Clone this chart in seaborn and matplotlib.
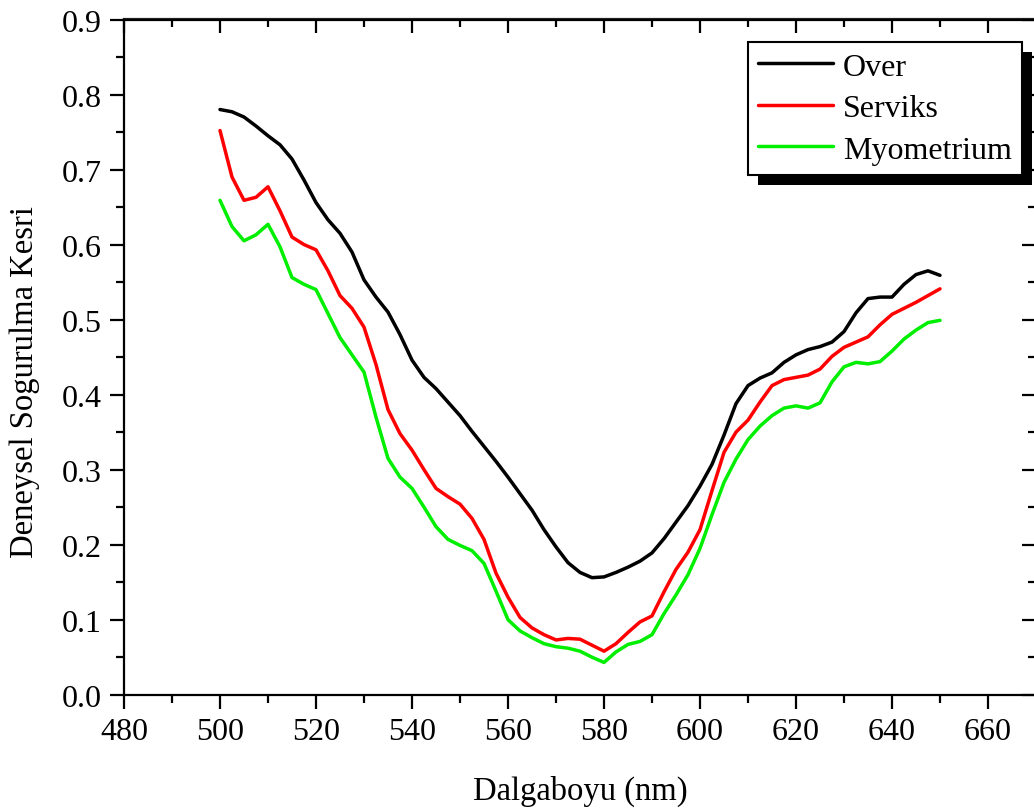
import numpy as np
import pandas as pd
import matplotlib
matplotlib.use("Agg")
import matplotlib.pyplot as plt
from matplotlib.patches import Rectangle
from matplotlib.ticker import MultipleLocator, NullFormatter, FormatStrFormatter
import seaborn as sns

wavelength = [500, 502.5, 505, 507.5, 510, 512.5, 515, 517.5, 520, 522.5,
              525, 527.5, 530, 532.5, 535, 537.5, 540, 542.5, 545, 547.5,
              550, 552.5, 555, 557.5, 560, 562.5, 565, 567.5, 570, 572.5,
              575, 577.5, 580, 582.5, 585, 587.5, 590, 592.5, 595, 597.5,
              600, 602.5, 605, 607.5, 610, 612.5, 615, 617.5, 620, 622.5,
              625, 627.5, 630, 632.5, 635, 637.5, 640, 642.5, 645, 647.5, 650]

over = [0.780, 0.777, 0.770, 0.758, 0.745, 0.733, 0.714, 0.686, 0.656, 0.633,
        0.615, 0.590, 0.553, 0.530, 0.510, 0.480, 0.446, 0.423, 0.408, 0.390,
        0.372, 0.351, 0.331, 0.311, 0.290, 0.268, 0.246, 0.220, 0.197, 0.176,
        0.163, 0.156, 0.157, 0.163, 0.170, 0.178, 0.189, 0.208, 0.230, 0.252,
        0.278, 0.307, 0.346, 0.388, 0.412, 0.422, 0.429, 0.443, 0.453, 0.460,
        0.464, 0.470, 0.484, 0.509, 0.528, 0.530, 0.530, 0.547, 0.560, 0.565, 0.559]

serviks = [0.752, 0.690, 0.659, 0.663, 0.677, 0.645, 0.610, 0.600, 0.593, 0.565,
           0.532, 0.515, 0.490, 0.440, 0.380, 0.348, 0.326, 0.300, 0.275, 0.264,
           0.254, 0.235, 0.207, 0.162, 0.130, 0.103, 0.089, 0.080, 0.073, 0.075,
           0.074, 0.066, 0.058, 0.068, 0.083, 0.097, 0.105, 0.137, 0.167, 0.190,
           0.220, 0.272, 0.323, 0.350, 0.366, 0.390, 0.412, 0.420, 0.423, 0.426,
           0.434, 0.451, 0.463, 0.470, 0.477, 0.493, 0.507, 0.515, 0.523, 0.532, 0.541]

myometrium = [0.659, 0.624, 0.605, 0.613, 0.627, 0.597, 0.556, 0.547, 0.540, 0.508,
              0.476, 0.453, 0.430, 0.370, 0.315, 0.290, 0.275, 0.250, 0.224, 0.207,
              0.199, 0.192, 0.175, 0.138, 0.100, 0.085, 0.076, 0.068, 0.064, 0.062,
              0.058, 0.050, 0.043, 0.057, 0.067, 0.071, 0.080, 0.108, 0.133, 0.160,
              0.195, 0.240, 0.283, 0.314, 0.340, 0.358, 0.372, 0.382, 0.385, 0.382,
              0.389, 0.417, 0.437, 0.443, 0.441, 0.444, 0.458, 0.474, 0.486, 0.496, 0.499]

series_names = ["Over", "Serviks", "Myometrium"]
series_colors = ["#000000", "#ff0000", "#00ee00"]

df = pd.concat([
    pd.DataFrame({"wl": wavelength, "val": over, "series": "Over"}),
    pd.DataFrame({"wl": wavelength, "val": serviks, "series": "Serviks"}),
    pd.DataFrame({"wl": wavelength, "val": myometrium, "series": "Myometrium"}),
], ignore_index=True)

sns.set_theme(style="white")
plt.rcParams["font.family"] = ["Liberation Serif", "DejaVu Serif"]
plt.rcParams["axes.linewidth"] = 1.6
plt.rcParams["lines.solid_joinstyle"] = "round"
plt.rcParams["lines.solid_capstyle"] = "round"

W, H = 1034, 812
fig = plt.figure(figsize=(W / 100, H / 100), dpi=100)
left, right = 124 / W, 1036 / W
bottom, top = 1 - 695.7 / H, 1 - 20.5 / H
ax = fig.add_axes([left, bottom, right - left, top - bottom])

sns.lineplot(data=df, x="wl", y="val", hue="series", hue_order=series_names,
             palette=dict(zip(series_names, series_colors)), linewidth=2.5,
             ax=ax, legend=False, sort=False)

ax.set_xlim(480, 670)
ax.set_ylim(0, 0.9)
ax.xaxis.set_major_locator(MultipleLocator(20))
ax.xaxis.set_minor_locator(MultipleLocator(10))
ax.yaxis.set_major_locator(MultipleLocator(0.1))
ax.yaxis.set_minor_locator(MultipleLocator(0.05))
ax.yaxis.set_major_formatter(FormatStrFormatter("%.1f"))
ax.xaxis.set_major_formatter(FormatStrFormatter("%d"))

for s in ax.spines.values():
    s.set_color("black")
    s.set_linewidth(1.6)

ax.tick_params(which="major", direction="out", length=10, width=1.6,
               labelsize=23, color="black", labelcolor="black", pad=6)
ax.tick_params(which="minor", direction="out", length=5.5, width=1.6, color="black")
ax.tick_params(axis="both", which="both", bottom=True, left=True, top=False, right=False)

# mirrored inward ticks on top and right (no labels)
secx = ax.secondary_xaxis("top")
secx.xaxis.set_major_locator(MultipleLocator(20))
secx.xaxis.set_minor_locator(MultipleLocator(10))
secx.xaxis.set_major_formatter(NullFormatter())
secx.xaxis.set_minor_formatter(NullFormatter())
secx.tick_params(which="major", direction="in", length=10, width=1.6, color="black")
secx.tick_params(which="minor", direction="in", length=5.5, width=1.6, color="black")
secx.spines["top"].set_linewidth(1.6)
secy = ax.secondary_yaxis("right")
secy.yaxis.set_major_locator(MultipleLocator(0.1))
secy.yaxis.set_minor_locator(MultipleLocator(0.05))
secy.yaxis.set_major_formatter(NullFormatter())
secy.yaxis.set_minor_formatter(NullFormatter())
secy.tick_params(which="major", direction="in", length=10, width=1.6, color="black")
secy.tick_params(which="minor", direction="in", length=5.5, width=1.6, color="black")
secy.spines["right"].set_linewidth(1.6)

ax.set_xlabel("Dalgaboyu (nm)", fontsize=23.5, color="black")
ax.set_ylabel("Deneysel Sogurulma Kesri", fontsize=23.5, color="black")
ax.xaxis.set_label_coords(0.5, (695.7 - 776) / 675.2)
ax.yaxis.set_label_coords((40 - 124) / 912, (695.7 - 382) / 675.2)

handles = [plt.Line2D([], [], color=c, linewidth=2.5) for c in series_colors]
leg = ax.legend(handles, series_names, loc="upper right",
                bbox_to_anchor=(1022 / W, 1 - 43 / H), bbox_transform=fig.transFigure,
                fontsize=23, frameon=True, fancybox=False, framealpha=1,
                edgecolor="black", handlelength=2.35, handletextpad=0.3,
                labelspacing=0.38, borderpad=0.32, borderaxespad=0)
leg.get_frame().set_linewidth(1.5)
leg.set_zorder(10)
for t in leg.get_texts():
    t.set_color("black")

fig.canvas.draw()
bb = leg.get_window_extent()
off = 10
shadow = Rectangle((bb.x0 + off, bb.y0 - off), bb.width, bb.height,
                   transform=None, facecolor="black", edgecolor="none",
                   zorder=9, clip_on=False)
ax.add_artist(shadow)

fig.savefig("out.png", dpi=100)
